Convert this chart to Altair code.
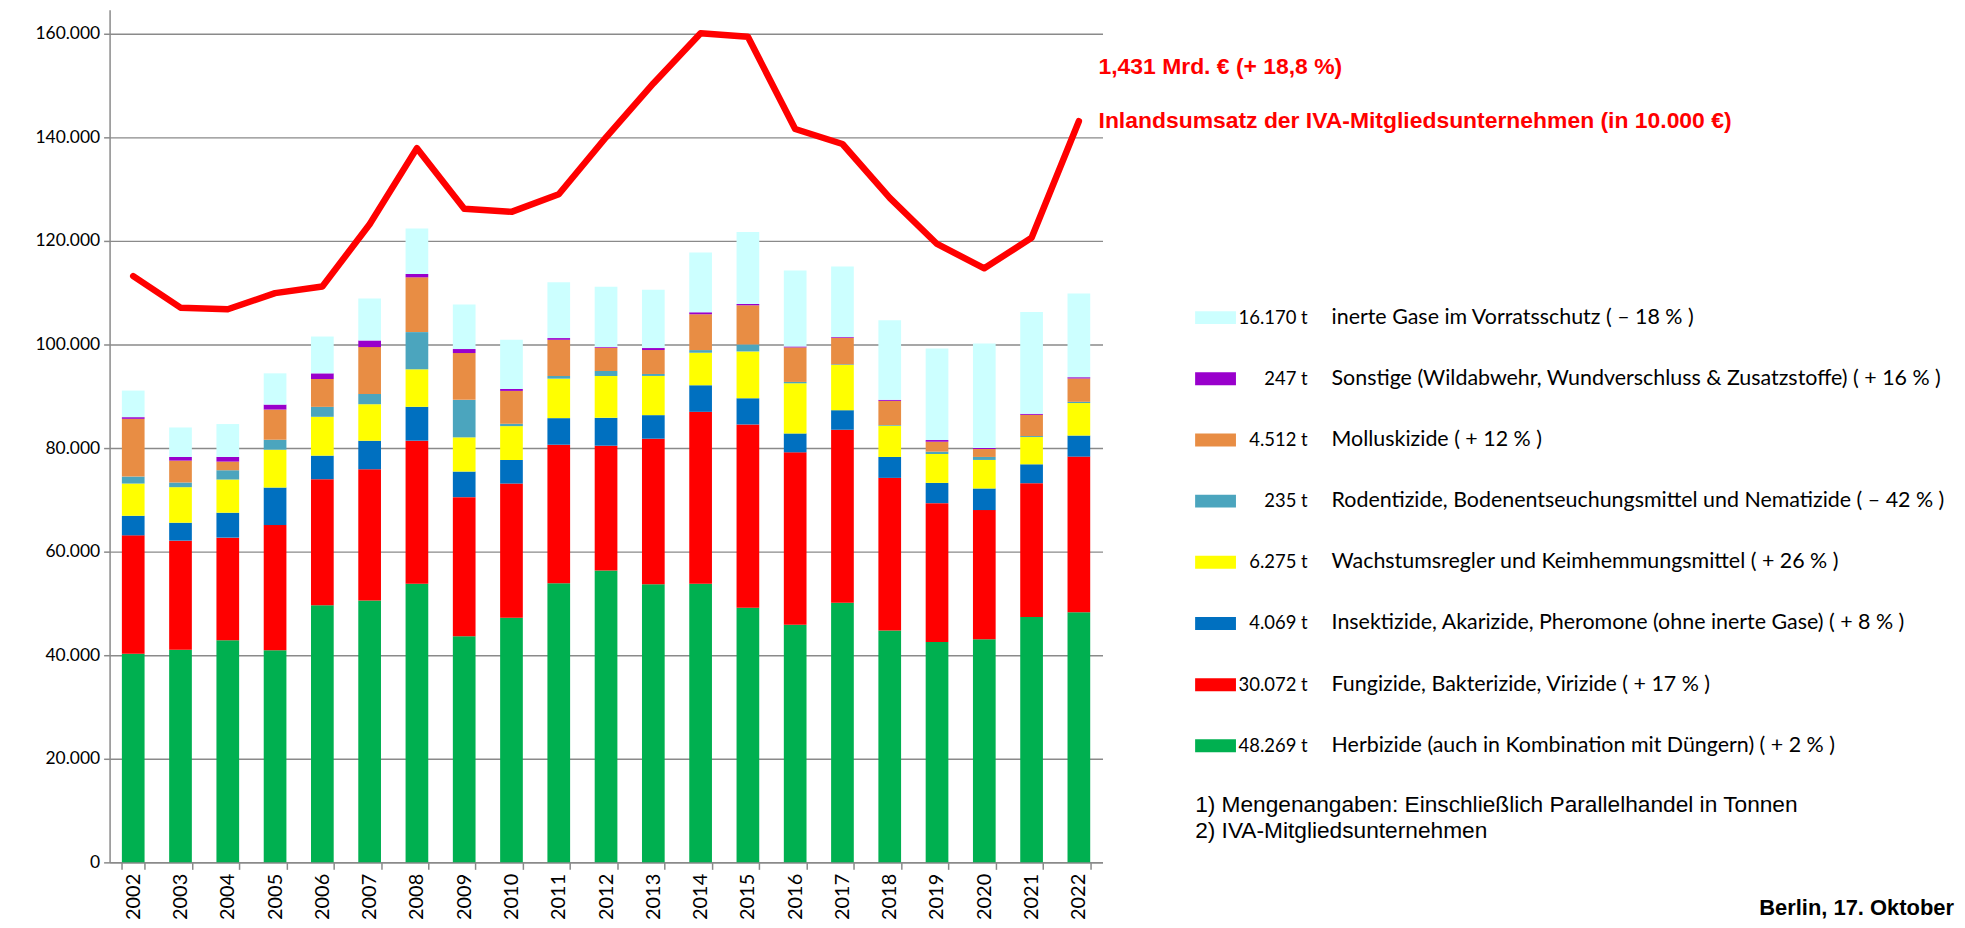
import altair as alt
import pandas as pd

years = [str(y) for y in range(2002, 2023)]

herbizide = [40260, 41030, 42890, 40970, 49620, 50580, 53790, 43660, 47250, 53910, 56350,
             53720, 53790, 49170, 45900, 50130, 44750, 42570, 43080, 47380, 48269]
fungizide = [22880, 21090, 19810, 24160, 24360, 25320, 27630, 26860, 25890, 26730, 24100,
             28080, 33200, 35380, 33270, 33400, 29490, 26790, 24940, 25830, 30072]
insektizide = [3780, 3460, 4810, 7240, 4550, 5510, 6540, 4940, 4550, 5130, 5380,
               4550, 5130, 5060, 3650, 3780, 4040, 3910, 4170, 3650, 4069]
wachstum = [6220, 6860, 6410, 7310, 7500, 7050, 7240, 6600, 6540, 7630, 8080,
            7570, 6280, 9040, 9680, 8720, 6020, 5580, 5510, 5260, 6275]
rodentizide = [1350, 900, 1790, 1920, 1920, 1990, 7180, 7240, 450, 510, 960,
               380, 510, 1350, 260, 130, 130, 450, 580, 190, 235]
molluskizide = [11150, 4230, 1670, 5830, 5380, 9040, 10580, 9040, 6350, 6990, 4490,
                4620, 6920, 7560, 6670, 5130, 4680, 1920, 1540, 4100, 4512]
sonstige = [320, 700, 900, 960, 1090, 1280, 640, 770, 380, 320, 130,
            380, 380, 260, 190, 130, 190, 320, 190, 190, 247]
gase = [5130, 5700, 6350, 6030, 7110, 8080, 8780, 8590, 9490, 10770, 11630,
        11280, 11540, 13910, 14680, 13650, 15380, 17690, 20190, 19680, 16170]

umsatz = [113200, 107100, 106800, 109900, 111200, 123200, 137900, 126200, 125600, 129000, 140000,
          150400, 160100, 159400, 141600, 138700, 128300, 119400, 114700, 120600, 143100]

categories = ["Herbizide", "Fungizide", "Insektizide", "Wachstumsregler", "Rodentizide",
              "Molluskizide", "Sonstige", "Gase"]
colors = ["#00B050", "#FF0000", "#0070C0", "#FFFF00", "#4BA5BE", "#E88D44", "#9900CC", "#CCFFFF"]
series = [herbizide, fungizide, insektizide, wachstum, rodentizide, molluskizide, sonstige, gase]

amounts = ["48.269 t", "30.072 t", "4.069 t", "6.275 t", "235 t", "4.512 t", "247 t", "16.170 t"]
descriptions = [
    "Herbizide (auch in Kombination mit Düngern) ( + 2 % )",
    "Fungizide, Bakterizide, Virizide ( + 17 % )",
    "Insektizide, Akarizide, Pheromone (ohne inerte Gase) ( + 8 % )",
    "Wachstumsregler und Keimhemmungsmittel ( + 26 % )",
    "Rodentizide, Bodenentseuchungsmittel und Nematizide ( – 42 % )",
    "Molluskizide ( + 12 % )",
    "Sonstige (Wildabwehr, Wundverschluss & Zusatzstoffe) ( + 16 % )",
    "\u00a0\u00a0inerte Gase im Vorratsschutz ( – 18 % )",
]

rows = []
for ci, (cat, vals) in enumerate(zip(categories, series)):
    for y, v in zip(years, vals):
        rows.append({"year": y, "cat": cat, "value": v, "ord": ci})
df = pd.DataFrame(rows)
df_line = pd.DataFrame({"year": years, "umsatz": umsatz})
df_leg = pd.DataFrame({
    "cat": categories,
    "amount": amounts,
    "desc": descriptions,
    "row": [7 - i for i in range(len(categories))],
})

W, H = 997, 856
YMAX = 164600
GRID = "#8A8A8A"
CAL = "Lato"
ARIAL = "Liberation Sans, Arial, sans-serif"

yscale = alt.Scale(domain=[0, YMAX], nice=False, zero=True)
xscale = alt.Scale(paddingInner=0.52, paddingOuter=0.26)
color_scale = alt.Scale(domain=categories, range=colors)

bars = alt.Chart(df).mark_bar().encode(
    x=alt.X("year:N", scale=xscale, sort=years, title=None,
            axis=alt.Axis(labelAngle=-90, labelFont=CAL, labelFontSize=20, labelColor="#000000",
                          tickBand="extent", tickSize=7, tickColor=GRID, tickWidth=1.5,
                          domainColor=GRID, domainWidth=1.5, labelPadding=4, grid=False)),
    y=alt.Y("value:Q", stack="zero", scale=yscale, title=None,
            axis=alt.Axis(values=[0, 20000, 40000, 60000, 80000, 100000, 120000, 140000, 160000],
                          format=",d", labelFont=CAL, labelFontSize=17.5, labelColor="#000000",
                          tickSize=6, tickColor=GRID, tickWidth=1.5, domainColor=GRID, domainWidth=1.5,
                          gridColor=GRID, gridWidth=1.4, labelPadding=4)),
    color=alt.Color("cat:N", scale=color_scale, legend=None),
    order=alt.Order("ord:Q", sort="ascending"),
)

line = alt.Chart(df_line).mark_line(color="#FF0000", strokeWidth=6.5, strokeCap="round",
                                    strokeJoin="round").encode(
    x=alt.X("year:N", sort=years, scale=xscale),
    y=alt.Y("umsatz:Q", scale=yscale, axis=None),
)

ann1 = pd.DataFrame({"t": ["1,431 Mrd. € (+ 18,8 %)"]})
ann2 = pd.DataFrame({"t": ["Inlandsumsatz der IVA-Mitgliedsunternehmen (in 10.000 €)"]})
ann1_text = alt.Chart(ann1).mark_text(align="left", baseline="middle", font=ARIAL, fontSize=23,
                                      fontWeight="bold", color="#FF0000").encode(
    x=alt.value(993), y=alt.value(57), text="t:N")
ann2_text = alt.Chart(ann2).mark_text(align="left", baseline="middle", font=ARIAL, fontSize=23,
                                      fontWeight="bold", color="#FF0000").encode(
    x=alt.value(993), y=alt.value(112), text="t:N")

legy = alt.Y("row:O", scale=alt.Scale(type="point", range=[309, 739], padding=0), axis=None)
swatch = alt.Chart(df_leg).mark_tick(orient="horizontal", size=41, thickness=13, opacity=1).encode(
    x=alt.value(1110.5),
    y=legy,
    color=alt.Color("cat:N", scale=color_scale, legend=None),
)
amt_text = alt.Chart(df_leg).mark_text(align="right", baseline="middle", font=CAL, fontSize=18.5,
                                       color="#000000").encode(
    x=alt.value(1203), y=legy, text="amount:N")
desc_text = alt.Chart(df_leg).mark_text(align="left", baseline="middle", font=CAL, fontSize=21.5,
                                        color="#000000").encode(
    x=alt.value(1227), y=legy, text="desc:N")

notes = pd.DataFrame({"t": ["1) Mengenangaben: Einschließlich Parallelhandel in Tonnen",
                            "2) IVA-Mitgliedsunternehmen"], "r": [0, 1]})
notes_text = alt.Chart(notes).mark_text(align="left", baseline="middle", font=ARIAL, fontSize=22.8,
                                        color="#000000").encode(
    x=alt.value(1090),
    y=alt.Y("r:O", scale=alt.Scale(type="point", range=[798, 825], padding=0), axis=None),
    text="t:N",
)

berlin = pd.DataFrame({"t": ["Berlin, 17. Oktober"]})
berlin_text = alt.Chart(berlin).mark_text(align="right", baseline="middle", font=ARIAL, fontSize=22,
                                          fontWeight="bold", color="#000000").encode(
    x=alt.value(1852), y=alt.value(902), text="t:N")

chart = alt.layer(
    bars, line, ann1_text, ann2_text, swatch, amt_text, desc_text, notes_text, berlin_text
).resolve_scale(y="independent").properties(
    width=W, height=H,
    autosize=alt.AutoSizeParams(type="none"),
    padding={"left": 102, "top": 0, "right": 858, "bottom": 56},
).configure(background="white").configure_view(strokeWidth=0, stroke="transparent")

chart.save("out.html", embed_options={
    "renderer": "svg", "actions": False,
    "formatLocale": {"decimal": ",", "thousands": ".", "grouping": [3], "currency": ["", " €"]},
})
